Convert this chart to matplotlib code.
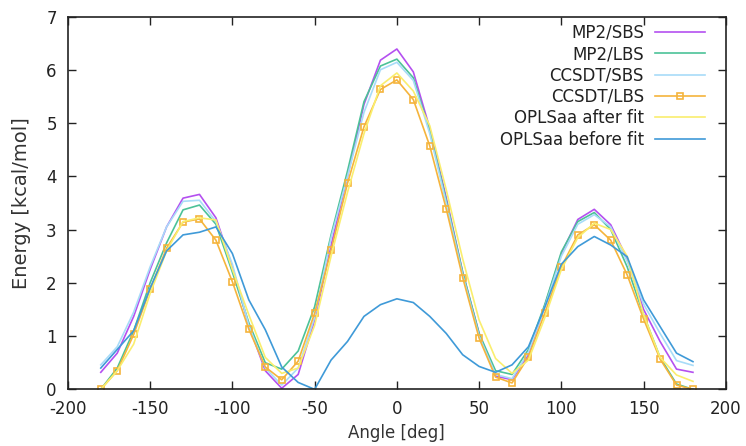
import numpy as np
import matplotlib
matplotlib.use("Agg")
import matplotlib.pyplot as plt

# %% Data
angle = np.arange(-180, 181, 10)

mp2_sbs = [0.32, 0.68, 1.37, 2.25, 3.05, 3.59, 3.66, 3.22, 2.30, 1.20, 0.35, 0.02,
           0.28, 1.30, 2.70, 4.00, 5.35, 6.18, 6.39, 5.96, 4.90, 3.60, 2.20, 1.05,
           0.25, 0.18, 0.65, 1.58, 2.55, 3.19, 3.38, 3.09, 2.45, 1.50, 0.90, 0.38, 0.32]
mp2_lbs = [0.00, 0.40, 1.10, 2.00, 2.75, 3.37, 3.46, 3.10, 2.20, 1.25, 0.50, 0.38,
           0.72, 1.55, 2.90, 4.10, 5.40, 6.07, 6.20, 5.85, 4.85, 3.55, 2.20, 1.05,
           0.35, 0.28, 0.75, 1.60, 2.58, 3.15, 3.32, 3.00, 2.30, 1.40, 0.60, 0.10, 0.00]
ccsdt_sbs = [0.46, 0.80, 1.45, 2.30, 3.05, 3.53, 3.55, 3.15, 2.35, 1.20, 0.40, 0.08,
             0.40, 1.35, 2.85, 4.00, 5.20, 6.00, 6.14, 5.80, 4.80, 3.50, 2.15, 1.00,
             0.28, 0.20, 0.70, 1.55, 2.50, 3.10, 3.28, 3.05, 2.40, 1.60, 1.05, 0.54, 0.45]
ccsdt_lbs = [0.00, 0.35, 1.03, 1.88, 2.65, 3.14, 3.20, 2.80, 2.02, 1.13, 0.42, 0.18,
             0.53, 1.43, 2.61, 3.87, 4.93, 5.63, 5.81, 5.44, 4.57, 3.39, 2.10, 0.96,
             0.23, 0.12, 0.61, 1.44, 2.30, 2.90, 3.09, 2.80, 2.15, 1.32, 0.57, 0.08, 0.00]
opls_after = [0.00, 0.35, 0.85, 1.80, 2.60, 3.15, 3.22, 3.18, 2.25, 1.40, 0.60, 0.30,
              0.40, 1.20, 2.50, 3.70, 4.80, 5.70, 5.94, 5.60, 4.95, 3.75, 2.45, 1.30,
              0.58, 0.30, 0.55, 1.35, 2.25, 2.85, 3.12, 3.00, 2.50, 1.40, 0.60, 0.27, 0.15]
opls_before = [0.40, 0.75, 1.10, 1.90, 2.60, 2.90, 2.95, 3.05, 2.55, 1.68, 1.12, 0.42,
               0.13, 0.00, 0.55, 0.90, 1.37, 1.59, 1.70, 1.63, 1.37, 1.05, 0.65, 0.43,
               0.32, 0.46, 0.80, 1.55, 2.35, 2.68, 2.87, 2.71, 2.49, 1.68, 1.18, 0.68, 0.52]

labels = ["MP2/SBS", "MP2/LBS", "CCSDT/SBS", "CCSDT/LBS",
          "OPLSaa after fit", "OPLSaa before fit"]
colors = ["#b450f0", "#4cc298", "#a8dcf8", "#f5b43c", "#faee6e", "#3f9ad8"]

# %% Plot
plt.rcParams['font.family'] = 'DejaVu Sans'
plt.rcParams['axes.unicode_minus'] = False
fig = plt.figure(figsize=(7.46, 4.46), dpi=100)
ax = fig.add_axes([0.091, 0.127, 0.882, 0.836])

series = [mp2_sbs, mp2_lbs, ccsdt_sbs, ccsdt_lbs, opls_after, opls_before]
for vals, lab, col in zip(series, labels, colors):
    if lab == "CCSDT/LBS":
        ax.plot(angle, vals, color=col, lw=1.2, label=lab, marker='s', ms=4.5,
                mfc='none', mec=col, mew=1.2)
    else:
        ax.plot(angle, vals, color=col, lw=1.2, label=lab)

ax.set_xlim(-200, 200)
ax.set_ylim(0, 7)
ax.set_xticks(np.arange(-200, 201, 50))
ax.set_yticks(np.arange(0, 8, 1))
ax.tick_params(direction='in', top=True, right=True, length=6, width=1,
               labelsize=12, colors='#222222', pad=8)
for s in ax.spines.values():
    s.set_linewidth(1.2)
    s.set_color('#222222')

ax.set_xlabel("Angle [deg]", fontsize=12, color='#333333', labelpad=4)
ax.set_ylabel("Energy [kcal/mol]", fontsize=14, color='#333333', labelpad=11)

leg = ax.legend(loc='upper right', bbox_to_anchor=(0.968, 0.98), frameon=False,
                markerfirst=False, fontsize=12, handlelength=3.0,
                labelspacing=0.2, borderaxespad=0, borderpad=0,
                handletextpad=0.66)
for t in leg.get_texts():
    t.set_ha('right')
    t.set_color('#222222')
leg._legend_box.align = "right"

fig.savefig("out.png", dpi=100)
